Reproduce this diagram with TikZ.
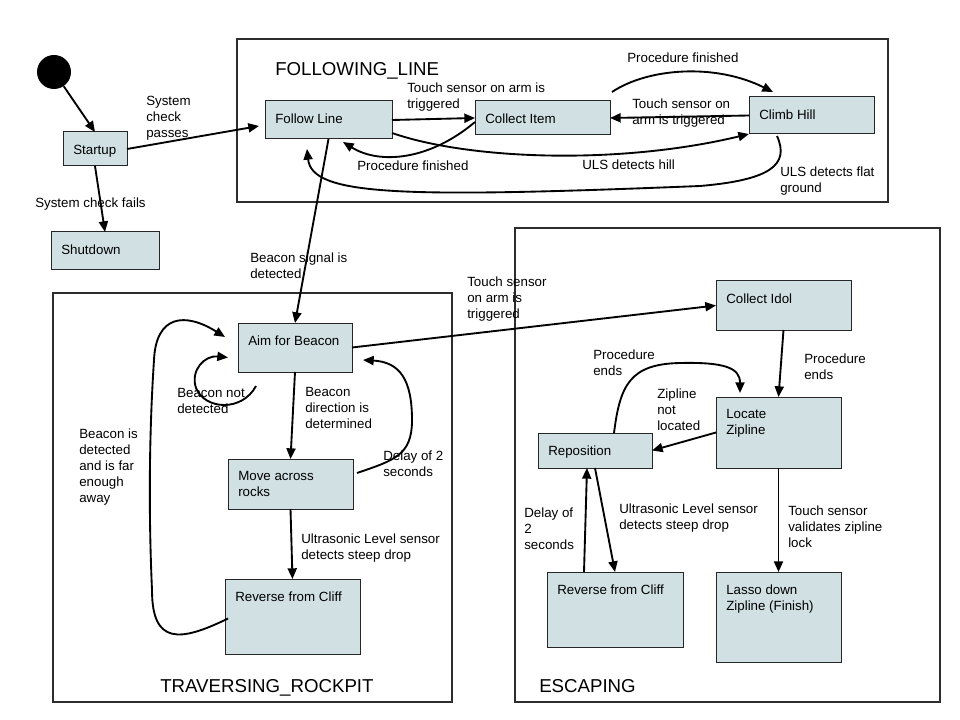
\documentclass[tikz,border=0pt]{standalone}
\usepackage{fontspec}
\setmainfont{Liberation Sans}
\usetikzlibrary{arrows.meta}

\definecolor{statefill}{RGB}{208,224,227}
\definecolor{frameline}{RGB}{45,45,45}

\tikzset{
  statebox/.style={draw=black!85, line width=0.75pt, fill=statefill,
    anchor=north west, inner sep=0pt, outer sep=0pt},
  boxtext/.style={anchor=north west, inner sep=0pt, align=left,
    font=\fontsize{10}{12}\selectfont},
  cond/.style={anchor=north west, inner sep=0pt, align=left,
    font=\fontsize{10}{12}\selectfont},
  region/.style={draw=frameline, line width=1.6pt, anchor=north west,
    inner sep=0pt, outer sep=0pt},
  regiontitle/.style={anchor=base west, inner sep=0pt,
    font=\fontsize{14}{17}\selectfont},
  trans/.style={line width=1.4pt, -{Triangle[length=8pt,width=6.8pt]}},
}

% state box: name, left, top, width, height, caption (all in px units)
\newcommand\mkstate[6]{%
  \node[statebox, minimum width=#4*0.75pt, minimum height=#5*0.75pt] (#1) at (#2,#3) {};
  \node[boxtext] (#1-text) at ([shift={(10,12.5)}]#1.north west) {#6};}

\begin{document}
\begin{tikzpicture}[x=0.75pt,y=-0.75pt]
\useasboundingbox (0,0) rectangle (960,720);

% composite regions
\node[region, minimum width=651*0.75pt, minimum height=163*0.75pt] (fline) at (237,39) {};
\node[region, minimum width=399*0.75pt, minimum height=409*0.75pt] (rock) at (53,293) {};
\node[region, minimum width=425*0.75pt, minimum height=474*0.75pt] (esc) at (515,228) {};
\node[regiontitle] (fline-title) at (275,76) {FOLLOWING\_LINE};
\node[regiontitle] (rock-title) at (160,692) {TRAVERSING\_ROCKPIT};
\node[regiontitle] (esc-title) at (539,692) {ESCAPING};

% transition conditions
\node[cond] (c-pass) at (146,96) {System\\check\\passes};
\node[cond] (c-fail) at (35,198) {System check fails};
\node[cond] (c-arm1) at (407,83) {Touch sensor on arm is\\triggered};
\node[cond] (c-arm2) at (632,99) {Touch sensor on\\arm is triggered};
\node[cond] (c-fin1) at (627,53) {Procedure finished};
\node[cond] (c-fin2) at (357,161) {Procedure finished};
\node[cond] (c-hill) at (582,160) {ULS detects hill};
\node[cond] (c-flat) at (780,167) {ULS detects flat\\ground};
\node[cond] (c-signal) at (250,253) {Beacon signal is\\detected};
\node[cond] (c-arm3) at (467,277) {Touch sensor\\on arm is\\triggered};
\node[cond] (c-notdet) at (177,388) {Beacon not\\detected};
\node[cond] (c-dir) at (305,387) {Beacon\\direction is\\determined};
\node[cond] (c-delay1) at (383,451) {Delay of 2\\seconds};
\node[cond] (c-drop1) at (301,534) {Ultrasonic Level sensor\\detects steep drop};
\node[cond] (c-far) at (79,429) {Beacon is\\detected\\and is far\\enough\\away};
\node[cond] (c-ends1) at (804,354) {Procedure\\ends};
\node[cond] (c-nozip) at (657,389) {Zipline\\not\\located};
\node[cond] (c-ends2) at (593,350) {Procedure\\ends};
\node[cond] (c-drop2) at (619,504) {Ultrasonic Level sensor\\detects steep drop};
\node[cond] (c-delay2) at (524,508) {Delay of\\2\\seconds};
\node[cond] (c-lock) at (788,506) {Touch sensor\\validates zipline\\lock};

% states
\node[circle, fill=black, minimum size=25.5pt, inner sep=0pt] (init) at (54,72) {};
\mkstate{startup}{63}{132}{64}{34}{Startup}
\mkstate{shutdown}{51}{232}{108}{38}{Shutdown}
\mkstate{follow}{265}{101}{127}{38}{Follow Line}
\mkstate{collect}{475}{101}{135}{34}{Collect Item}
\mkstate{climb}{749}{97}{125}{37}{Climb Hill}
\mkstate{aim}{238}{323}{114}{49}{Aim for Beacon}
\mkstate{move}{228}{459}{125}{50}{Move across\\rocks}
\mkstate{rev1}{225}{579}{135}{75}{Reverse from Cliff}
\mkstate{idol}{716}{281}{135}{49}{Collect Idol}
\mkstate{locate}{716}{397}{125}{71}{Locate\\Zipline}
\mkstate{repos}{538}{433}{114}{35}{Reposition}
\mkstate{rev2}{547}{572}{136}{75}{Reverse from Cliff}
\mkstate{lasso}{716}{572}{125}{90}{Lasso down\\Zipline (Finish)}

% transitions: start-up
\draw[trans] (init) -- (startup.north);
\draw[trans] (startup.south) -- (shutdown.north);
\draw[trans] (startup.east) -- ([shift={(-6,6)}]follow.west);

% transitions: following the line
\draw[trans] (follow.east) -- (collect.west);
\draw[trans] (climb.west) -- (collect.east);
\draw[trans] ([shift={(2,-9)}]collect.north east)
  .. controls (648,68) and (715,63) .. ([shift={(24,-5)}]climb.north west);
\draw[trans] ([shift={(0,4)}]collect.west)
  .. controls (430,160) and (380,165) .. ([shift={(78,3)}]follow.south west);
\draw[trans] ([shift={(0,-6)}]follow.south east)
  .. controls (470,160) and (620,165) .. (climb.south west);
\draw[trans] ([shift={(28,2)}]climb.south west)
  .. controls (790,165) and (770,180) .. (700,186)
  .. controls (400,198) and (312,196) .. ([shift={(42,10)}]follow.south west);
\draw[trans] (follow.south) -- (aim.north);

% transitions: rock pit
\draw[trans] (aim.east) -- (idol.west);
\draw[trans] ([shift={(18,14)}]aim.south west)
  .. controls (242,412) and (205,410) .. (196,388)
  .. controls (190,370) and (205,355) .. ([shift={(-10,10)}]aim.west);
\draw[trans] (aim.south) -- (move.north);
\draw[trans] ([shift={(4,-11)}]move.east)
  .. controls (395,460) and (412,455) .. (412,420)
  .. controls (412,380) and (400,362) .. ([shift={(11,-12)}]aim.south east);
\draw[trans] (move.south) -- (rev1.north);
\draw[trans] ([shift={(3,2)}]rev1.west)
  .. controls (180,642) and (152,645) .. (152,590)
  .. controls (148,500) and (150,420) .. (154,360)
  .. controls (156,315) and (185,312) .. ([shift={(-13,14)}]aim.north west);

% transitions: escaping
\draw[trans] (idol.south) -- (locate.north);
\draw[trans] (locate.west) -- (repos.east);
\draw[trans] ([shift={(76,0)}]repos.north west)
  .. controls (620,385) and (630,364) .. (680,363)
  .. controls (725,362) and (740,368) .. ([shift={(24,-4)}]locate.north west);
\draw[trans] (repos.south) -- (rev2.north);
\draw[trans] ([shift={(37,0)}]rev2.north west) -- ([shift={(49,0)}]repos.south west);
\draw[trans] (locate.south) -- (lasso.north);
\end{tikzpicture}
\end{document}
